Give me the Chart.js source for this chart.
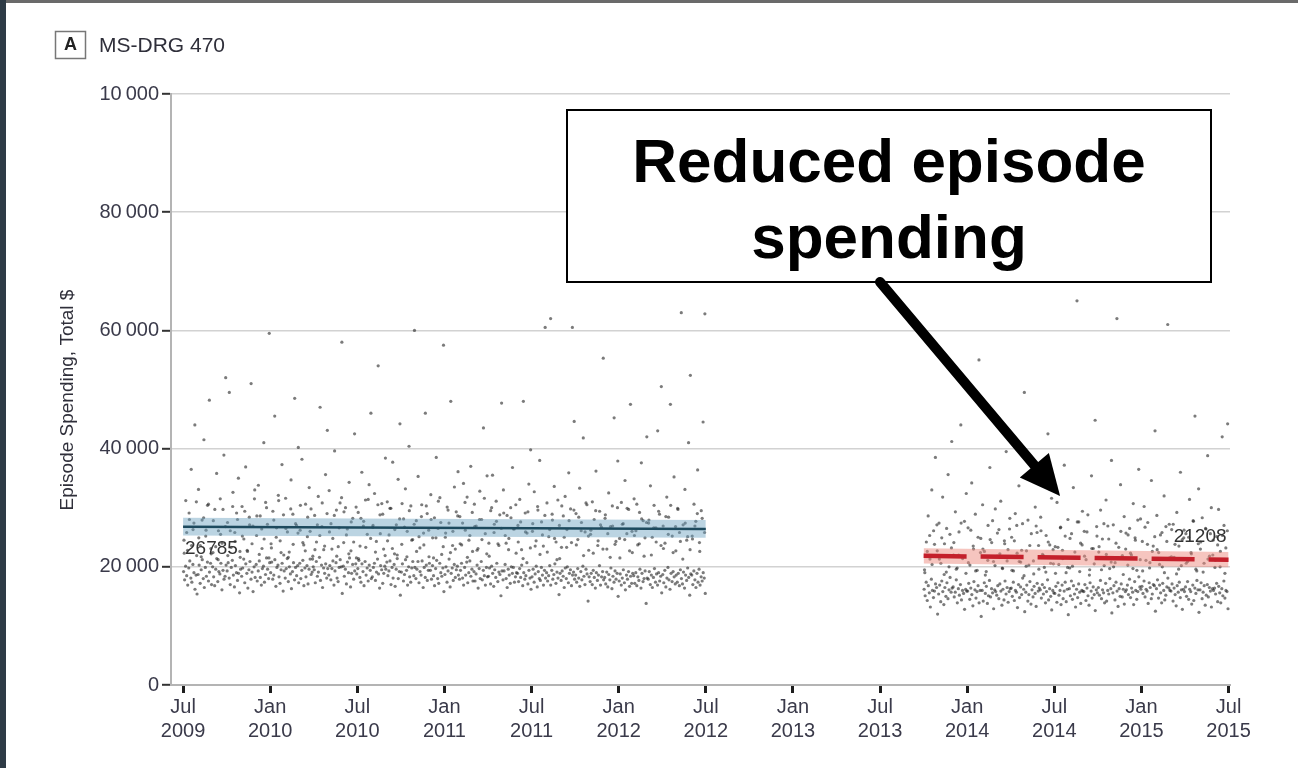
<!DOCTYPE html>
<html>
<head>
<meta charset="utf-8">
<script src="https://cdn.jsdelivr.net/npm/chart.js@4"></script>
<style>
  html, body { margin: 0; padding: 0; background: #fff; }
  #wrap { position: relative; width: 1298px; height: 768px; }
  canvas { display: block; }
</style>
</head>
<body>
<div id="wrap"><canvas id="c" width="1298" height="768"></canvas></div>
<script>
// Months are counted from July 2009 (0) to July 2015 (72).
const xTickMonths = [0, 6, 12, 18, 24, 30, 36, 42, 48, 54, 60, 66, 72];
const xTickLabels = [
  ['Jul', '2009'], ['Jan', '2010'], ['Jul', '2010'], ['Jan', '2011'], ['Jul', '2011'],
  ['Jan', '2012'], ['Jul', '2012'], ['Jan', '2013'], ['Jul', '2013'], ['Jan', '2014'],
  ['Jul', '2014'], ['Jan', '2015'], ['Jul', '2015']
];
const yTickValues = [0, 20000, 40000, 60000, 80000, 100000];
const yTickLabels = ['0', '20\u2009000', '40\u2009000', '60\u2009000', '80\u2009000', '10\u2009000'];

// Episode spending ($ thousands), one row per month, baseline period Jul 2009 - Jun 2012.
const preStartMonth = 0;
const preDense = [
  [19.2,17.8,20.1,18.5,16.9,19.8,21.0,18.1,17.4,20.4,19.0,16.2,18.6,15.4],
  [18.7,20.3,17.2,19.5,21.2,18.0,16.5,19.9,18.4,20.8,17.6,19.1,20.6,17.0],
  [20.0,18.3,16.8,19.6,21.4,17.5,19.2,18.8,20.6,16.1,19.4,17.9,18.4,20.3],
  [19.3,20.7,18.1,17.0,19.9,21.1,18.6,16.6,20.2,19.0,17.7,18.9,15.6,19.6],
  [18.4,19.8,21.3,17.3,20.5,18.9,16.4,19.5,20.9,17.9,19.1,15.8,20.0,18.2],
  [20.4,17.6,19.3,21.0,18.2,16.9,19.7,20.1,17.4,18.7,21.5,19.6,18.0,20.7],
  [19.0,20.8,17.9,18.6,21.2,16.7,19.9,20.3,18.3,17.2,19.5,20.6,15.9,19.3],
  [18.1,19.7,21.4,17.5,20.0,18.8,16.3,19.2,20.7,17.8,19.9,18.5,20.2,17.3],
  [20.6,18.0,19.4,21.1,16.8,19.8,18.3,20.2,17.1,19.6,21.3,18.7,19.1,20.0],
  [19.5,17.3,20.9,18.4,19.1,21.6,17.7,20.3,16.5,19.8,18.9,20.5,18.1,19.7],
  [18.6,20.2,17.8,19.7,21.0,16.9,19.3,20.7,18.1,17.5,19.9,21.2,20.0,15.5],
  [20.1,18.4,19.6,17.1,20.8,19.0,21.5,16.6,18.9,20.4,17.9,19.3,20.5,18.8],
  [19.7,21.1,18.2,17.4,20.5,19.2,16.8,20.9,18.6,19.8,17.6,20.3,19.4,18.0],
  [18.3,19.9,20.6,17.7,19.1,21.3,18.8,16.4,20.2,19.5,17.2,18.9,20.1,19.6],
  [20.8,18.5,19.3,21.0,17.0,19.9,18.1,20.4,16.7,19.6,21.4,18.0,19.2,15.2],
  [19.1,20.5,17.6,18.7,21.2,19.4,16.9,20.0,18.3,17.4,19.8,20.9,18.5,19.9],
  [18.0,19.6,20.9,17.3,19.2,18.6,21.0,16.5,19.9,18.2,20.3,17.7,19.4,20.6],
  [19.4,17.9,20.2,18.5,16.8,19.7,21.1,18.0,17.2,20.6,19.0,18.4,19.8,15.8],
  [18.7,20.0,17.4,19.3,21.3,16.6,18.9,19.8,17.7,20.4,18.2,19.5,20.1,18.6],
  [17.9,19.4,20.6,18.1,16.9,19.9,18.6,20.8,17.3,19.0,21.0,18.4,19.6,17.6],
  [19.2,17.6,18.8,20.3,16.4,19.7,18.0,20.9,17.8,19.4,18.5,16.9,19.9,18.3],
  [18.4,19.8,17.1,20.1,18.9,16.7,19.5,18.2,20.6,17.5,19.1,18.7,15.1,19.3],
  [17.8,19.3,20.4,18.0,16.5,19.6,18.6,17.2,20.0,18.9,19.9,17.4,18.3,19.0],
  [18.9,17.5,19.7,18.2,20.3,16.8,19.0,17.9,18.5,20.7,17.1,19.4,18.1,16.2],
  [18.3,19.6,17.4,18.8,20.1,16.6,19.2,18.0,17.7,19.9,18.6,16.9,19.4,18.1],
  [19.0,17.6,18.5,20.2,16.9,19.4,17.9,18.7,20.5,17.2,19.1,18.1,15.3,18.9],
  [17.7,19.3,18.4,16.5,19.8,18.0,20.0,17.3,18.9,19.5,16.8,18.6,19.1,17.9],
  [18.6,17.4,19.7,18.1,16.7,19.2,17.8,20.1,18.4,17.0,19.6,18.8,14.2,18.3],
  [17.5,18.9,17.0,19.4,18.2,16.4,19.0,17.7,18.6,20.2,16.9,18.3,19.2,17.8],
  [18.2,17.1,19.1,16.6,18.7,17.8,19.8,16.3,18.4,17.4,19.3,17.9,18.9,15.0],
  [17.6,18.8,16.9,18.1,19.5,17.3,16.1,18.6,17.9,19.2,16.7,18.4,17.2,18.9],
  [18.5,17.2,19.0,16.8,18.3,17.7,19.6,16.4,18.9,17.5,18.0,19.3,13.8,18.1],
  [17.9,19.2,17.0,18.6,16.5,18.2,19.7,17.4,18.8,16.9,19.0,17.6,18.4,15.6],
  [18.7,17.3,19.4,16.6,18.1,19.9,17.8,16.2,18.9,17.5,19.2,18.3,17.1,18.6],
  [17.4,18.9,16.8,19.5,18.0,17.1,19.1,16.4,18.6,17.7,19.8,18.2,15.2,18.8],
  [18.6,17.0,19.3,17.8,16.5,18.9,17.4,19.6,16.9,18.3,17.6,19.0,18.1,15.5]
];
const preMid = [
  [22.3,25.8,29.1,23.6,27.4,31.0],
  [24.9,21.7,28.3,26.2,30.6,23.1],
  [27.8,23.4,21.2,25.5,29.7,26.8],
  [21.9,26.1,30.2,24.3,28.0,22.6],
  [25.2,29.4,22.8,27.1,23.9,31.5],
  [28.6,22.1,26.4,24.7,30.0,21.5],
  [23.2,27.9,25.0,31.2,22.4,28.8],
  [26.5,21.6,29.8,23.8,27.3,25.7],
  [30.4,24.1,22.7,28.4,26.0,21.3],
  [22.9,27.1,25.3,30.8,23.5,29.0],
  [25.9,23.0,28.7,21.8,26.6,31.7],
  [29.3,25.4,22.2,27.6,24.2,30.1],
  [21.4,28.2,26.9,23.3,31.4,24.8],
  [27.0,22.5,30.5,25.6,28.9,21.9],
  [24.4,29.9,23.1,26.3,22.0,28.1],
  [30.7,26.7,21.7,29.5,24.5,27.2],
  [22.6,25.1,28.5,23.7,30.3,26.2],
  [28.0,21.5,24.9,31.1,27.5,23.4],
  [25.7,29.6,22.4,26.0,23.0,28.6],
  [23.9,27.4,30.9,21.6,25.3,29.2],
  [26.8,22.8,28.0,24.6,31.6,22.2],
  [21.8,30.0,25.8,27.7,23.6,26.5],
  [29.1,24.0,22.9,28.3,26.4,30.5],
  [24.2,27.6,21.4,25.9,29.3,23.2],
  [27.3,23.5,30.2,22.1,25.4,28.7],
  [22.5,26.3,28.9,24.8,21.2,27.0],
  [30.3,25.0,23.3,27.8,24.1,29.6],
  [23.7,28.4,26.1,21.9,30.8,25.2],
  [26.2,22.3,29.5,24.4,27.1,23.0],
  [28.8,25.6,21.6,26.9,23.8,30.0],
  [21.5,27.2,24.6,29.9,22.7,26.0],
  [25.3,30.6,23.9,28.1,21.8,27.5],
  [27.9,22.0,26.6,24.2,29.4,23.6],
  [23.1,28.5,25.5,30.4,22.4,26.8],
  [29.7,24.3,21.3,27.4,25.1,22.9],
  [24.7,26.9,29.0,22.6,28.2,25.8]
];
const preSpread = [
  [24.5,31.2,22.8,28.0,36.5,26.3,44.0,21.9],
  [33.1,23.6,27.9,41.5,25.2,30.4,48.2,22.2],
  [22.4,29.7,35.8,26.1,31.5,24.0,38.9,52.0],
  [27.5,49.5,23.3,32.6,25.8,29.1,35.0,21.6],
  [30.2,24.7,36.9,22.6,28.4,51.0,26.9,33.0],
  [25.3,33.8,28.6,23.1,41.0,30.9,27.2,59.5],
  [23.9,29.4,45.5,26.6,32.1,24.4,37.3,22.0],
  [31.6,25.9,22.5,34.7,28.9,48.5,27.0,40.2],
  [26.2,38.2,23.7,30.6,25.1,33.4,29.8,21.8],
  [28.7,24.2,31.9,47.0,26.8,22.9,35.6,43.1],
  [32.9,27.3,24.8,39.6,29.6,23.4,30.8,58.0],
  [24.1,30.0,26.4,34.3,22.7,28.2,42.5,21.5],
  [29.2,23.5,36.0,27.7,31.3,25.5,33.9,46.0],
  [26.7,32.4,24.3,54.0,28.8,30.7,23.0,38.4],
  [31.0,25.4,29.9,37.7,22.2,27.1,34.8,44.2],
  [23.8,28.1,33.2,26.0,40.4,30.3,24.6,60.0],
  [27.8,35.3,23.2,30.5,25.7,46.0,29.0,21.7],
  [32.2,24.9,28.3,38.5,26.5,31.7,22.1,57.5],
  [25.0,30.1,27.4,48.0,23.6,33.5,29.3,36.1],
  [28.5,23.7,34.1,26.2,31.8,24.5,37.0,22.6],
  [30.6,26.9,23.1,32.8,28.0,43.5,25.6,35.4],
  [24.0,29.5,35.5,27.2,31.1,23.9,28.8,47.7],
  [33.0,25.3,28.7,24.8,30.0,36.8,26.4,22.3],
  [27.0,31.4,22.9,48.0,29.1,25.7,34.0,39.8],
  [26.0,32.7,24.4,29.6,38.0,27.6,23.5,60.5],
  [30.8,25.1,62.0,27.9,33.6,24.2,31.3,21.4],
  [23.3,28.6,31.9,26.3,35.9,29.8,60.5,44.6],
  [29.0,24.6,33.3,27.5,41.8,25.9,30.5,22.8],
  [25.5,31.0,28.0,36.2,23.6,29.4,26.7,55.3],
  [28.2,23.0,32.5,26.8,30.3,45.2,24.3,37.9],
  [24.8,30.9,27.3,34.6,25.6,29.7,47.5,22.4],
  [31.5,26.1,23.7,29.2,37.6,27.8,24.9,42.0],
  [27.4,33.7,25.0,30.4,26.6,43.0,28.9,50.5],
  [26.9,24.0,31.8,28.4,47.5,25.2,35.2,22.7],
  [29.9,25.8,63.0,27.1,33.1,24.5,41.0,52.4],
  [25.2,30.6,27.7,36.4,24.1,29.5,44.5,62.8]
];

// Intervention period, Oct 2013 - Jun 2015.
const postStartMonth = 51;
const postDense = [
  [16.2,15.1,17.4,14.3,16.8,15.6,13.2,17.9,16.0,14.8,15.9,17.1,16.5,12.0],
  [15.4,16.9,14.1,17.6,15.8,13.6,16.5,15.0,17.3,14.6,16.1,18.2,15.7,16.4],
  [16.6,14.9,15.7,17.8,13.9,16.3,15.2,17.0,14.4,16.0,15.5,12.8,16.2,15.9],
  [15.9,17.2,14.5,16.4,15.3,13.4,17.5,16.1,14.7,15.8,16.8,13.9,16.0,11.6],
  [16.0,14.2,17.3,15.5,16.7,13.8,15.1,17.7,14.9,16.3,15.6,12.9,16.1,15.8],
  [15.2,16.8,14.6,17.1,15.9,13.5,16.2,14.4,17.6,15.4,16.5,14.0,15.8,16.3],
  [16.4,15.0,17.4,14.3,16.0,15.7,13.1,17.0,14.8,16.6,15.3,18.1,16.2,12.4],
  [15.7,16.9,14.2,15.3,17.5,13.7,16.1,14.9,16.7,15.5,13.3,17.2,15.9,16.4],
  [16.1,14.7,17.0,15.4,16.5,13.9,15.8,17.8,14.4,16.3,15.0,12.7,16.0,15.6],
  [15.5,16.7,14.0,17.3,15.2,16.0,13.6,16.9,14.6,15.9,17.4,14.1,16.2,11.9],
  [16.3,15.1,17.6,14.5,16.8,15.4,13.2,16.2,14.8,17.1,15.7,13.8,16.0,15.9],
  [15.8,17.0,14.3,16.4,15.1,13.5,17.3,15.9,14.7,16.6,15.3,12.6,16.1,15.6],
  [16.5,15.2,17.7,14.6,16.1,15.6,13.9,17.2,14.2,16.0,15.4,18.0,16.3,12.2],
  [15.6,16.8,14.4,17.4,15.9,13.3,16.3,15.0,17.1,14.9,16.2,13.7,15.8,16.1],
  [16.9,15.3,17.9,14.8,16.4,15.7,13.6,17.5,16.0,14.5,15.8,18.3,16.6,16.2],
  [16.7,15.5,17.6,14.9,16.2,15.9,13.8,17.3,16.5,14.6,15.4,17.0,16.8,12.5],
  [16.3,17.8,14.7,16.9,15.6,13.9,17.2,16.0,14.4,15.2,16.6,18.1,16.4,16.0],
  [15.9,17.1,14.2,16.4,15.3,13.4,16.8,15.7,17.4,14.8,16.1,12.8,16.2,15.8],
  [16.6,15.0,17.5,14.5,16.2,15.8,13.7,16.9,14.3,16.4,15.5,17.7,16.1,12.3],
  [16.1,17.3,14.6,15.7,16.8,13.5,15.2,17.0,14.9,16.5,15.9,13.2,16.3,16.0],
  [16.4,15.4,17.2,14.1,16.7,15.6,13.9,16.3,15.1,17.6,14.7,16.0,15.8,12.9]
];
const postMid = [
  [19.0,22.6,25.3,20.4,23.8,27.1],
  [21.3,24.9,18.7,26.5,20.0,23.2],
  [24.1,19.6,22.0,27.4,21.7,18.9],
  [20.7,26.2,23.5,19.3,25.0,22.4],
  [23.0,18.6,21.1,24.6,27.8,20.2],
  [25.7,22.2,19.8,23.9,21.0,26.4],
  [19.4,24.4,27.0,20.9,22.8,18.5],
  [22.7,20.3,25.6,18.8,26.9,23.6],
  [26.1,21.9,19.1,24.2,20.6,22.9],
  [18.9,23.3,26.6,21.4,25.2,19.9],
  [24.8,20.1,22.5,27.6,19.2,23.7],
  [21.8,25.9,18.6,23.1,20.5,26.8],
  [23.4,19.5,27.3,22.1,24.7,20.8],
  [20.0,24.0,21.5,26.0,18.7,23.0],
  [25.4,22.3,19.7,24.5,27.9,21.2],
  [19.3,26.7,23.8,20.7,22.6,25.1],
  [22.9,20.4,25.8,19.0,24.3,27.2],
  [26.3,21.6,18.8,23.5,20.2,24.9],
  [20.6,25.0,22.4,27.7,19.6,23.9],
  [24.2,19.1,26.5,21.3,25.6,22.0],
  [21.1,23.7,20.0,25.3,18.9,26.1]
];
const postSpread = [
  [19.5,24.2,28.6,21.3,33.0,26.1,38.5,22.7],
  [27.4,20.6,31.8,23.9,19.1,35.6,25.5,41.2],
  [22.0,29.3,19.8,25.9,44.0,21.4,27.7,32.4],
  [26.6,20.3,34.2,23.0,28.9,19.4,55.0,24.8],
  [30.5,22.6,19.2,27.0,36.8,24.1,20.9,29.8],
  [21.8,26.3,31.1,19.7,24.4,39.5,22.9,28.2],
  [25.0,19.3,29.0,22.3,33.7,20.8,27.3,49.5],
  [20.1,27.9,23.6,35.0,21.0,30.1,25.8,19.6],
  [28.4,22.1,19.9,25.3,42.5,23.7,31.6,20.5],
  [23.4,30.9,20.4,26.7,22.8,37.2,19.0,28.0],
  [19.8,25.6,33.4,21.6,65.0,27.6,24.0,29.4],
  [26.0,21.2,28.8,19.5,35.4,23.1,44.8,25.2],
  [22.5,29.6,24.7,20.2,31.3,26.9,19.7,38.0],
  [27.1,20.7,62.0,23.3,33.9,21.9,28.5,25.7],
  [20.3,26.5,22.0,30.7,24.9,19.4,36.5,28.1],
  [24.3,30.2,21.1,27.5,19.8,34.6,23.5,43.0],
  [28.7,22.4,25.4,20.0,32.0,26.8,61.0,21.5],
  [21.7,27.2,23.8,29.2,19.6,36.0,24.6,26.2],
  [25.6,20.9,31.4,22.2,27.8,45.5,19.3,33.2],
  [23.0,28.3,20.6,26.4,38.8,21.8,30.0,24.5],
  [19.9,25.1,29.7,22.6,42.0,27.0,23.2,44.2]
];

// Fitted trend and 95% CI ($) at the start and end of each period.
const preTrendMonths = [0, 36];
const preTrend = [26785, 26400];
const preLower = [25285, 24900];
const preUpper = [28285, 27900];
const postTrendMonths = [51, 72];
const postTrend = [21850, 21208];
const postLower = [20550, 19908];
const postUpper = [23150, 22508];

function toPoints(rows, startMonth) {
  const pts = [];
  rows.forEach((vals, r) => {
    vals.forEach((v, i) => {
      pts.push({ x: startMonth + r + (i + 0.5) / vals.length, y: v * 1000 });
    });
  });
  return pts;
}
function pairs(xs, ys) { return xs.map((x, i) => ({ x: x, y: ys[i] })); }

const dotColor = 'rgba(35,35,35,0.6)';
const dotRadius = 1.6;
const tickFont = { family: '"Liberation Sans", sans-serif', size: 20 };

function dots(rows, start) {
  return { data: toPoints(rows, start), backgroundColor: dotColor, borderWidth: 0, pointRadius: dotRadius, order: 5 };
}

const decorPlugin = {
  id: 'decor',
  afterDraw(chart) {
    const ctx = chart.ctx;
    const xs = chart.scales.x, ys = chart.scales.y;
    ctx.save();
    // page frame
    ctx.fillStyle = '#2e3b46';
    ctx.fillRect(0, 0, 6, 768);
    ctx.fillStyle = '#6a6a6a';
    ctx.fillRect(6, 0, 1292, 3);

    // panel label
    ctx.strokeStyle = '#777';
    ctx.lineWidth = 1.5;
    ctx.strokeRect(55.5, 31.5, 30, 27);
    ctx.fillStyle = '#222';
    ctx.font = 'bold 18px "Liberation Sans", sans-serif';
    ctx.textAlign = 'center';
    ctx.textBaseline = 'middle';
    ctx.fillText('A', 70.5, 45.5);
    ctx.fillStyle = '#2f2f3a';
    ctx.font = '21px "Liberation Sans", sans-serif';
    ctx.textAlign = 'left';
    ctx.fillText('MS-DRG 470', 99, 46);

    // y axis title
    ctx.save();
    ctx.translate(68, 400);
    ctx.rotate(-Math.PI / 2);
    ctx.fillStyle = '#2f2f3a';
    ctx.font = '19px "Liberation Sans", sans-serif';
    ctx.textAlign = 'center';
    ctx.fillText('Episode Spending, Total $', 0, 0);
    ctx.restore();

    // value labels at the trend ends
    ctx.fillStyle = '#333';
    ctx.font = '19px "Liberation Sans", sans-serif';
    ctx.textBaseline = 'middle';
    ctx.textAlign = 'left';
    ctx.fillText(String(preTrend[0]), xs.getPixelForValue(preTrendMonths[0]) + 2, ys.getPixelForValue(preTrend[0]) + 22);
    ctx.textAlign = 'right';
    ctx.fillText(String(postTrend[1]), xs.getPixelForValue(postTrendMonths[1]) - 2, ys.getPixelForValue(postTrend[1]) - 23);

    // callout box
    const bx = 567, by = 110, bw = 644, bh = 172;
    ctx.fillStyle = '#fff';
    ctx.fillRect(bx, by, bw, bh);
    ctx.strokeStyle = '#000';
    ctx.lineWidth = 2;
    ctx.strokeRect(bx, by, bw, bh);
    ctx.fillStyle = '#000';
    ctx.font = 'bold 62px "Liberation Sans", Arial, sans-serif';
    ctx.textAlign = 'center';
    ctx.textBaseline = 'alphabetic';
    ctx.fillText('Reduced episode', bx + bw / 2, by + 72);
    ctx.fillText('spending', bx + bw / 2, by + 148);

    // arrow into the post-period cloud
    const sx = 880, sy = by + bh;
    const tx = xs.getPixelForValue(60.4), ty = ys.getPixelForValue(32000);
    const ang = Math.atan2(ty - sy, tx - sx);
    const headLen = 40, headHalf = 19;
    const bxp = tx - headLen * Math.cos(ang), byp = ty - headLen * Math.sin(ang);
    ctx.strokeStyle = '#000';
    ctx.lineWidth = 10;
    ctx.lineCap = 'round';
    ctx.beginPath();
    ctx.moveTo(sx, sy);
    ctx.lineTo(bxp, byp);
    ctx.stroke();
    ctx.beginPath();
    ctx.moveTo(tx, ty);
    ctx.lineTo(bxp + headHalf * Math.sin(ang), byp - headHalf * Math.cos(ang));
    ctx.lineTo(bxp - headHalf * Math.sin(ang), byp + headHalf * Math.cos(ang));
    ctx.closePath();
    ctx.fill();
    ctx.restore();
  }
};

new Chart(document.getElementById('c'), {
  type: 'scatter',
  data: {
    datasets: [
      dots(preDense, preStartMonth),
      dots(preMid, preStartMonth),
      dots(preSpread, preStartMonth),
      dots(postDense, postStartMonth),
      dots(postMid, postStartMonth),
      dots(postSpread, postStartMonth),
      { type: 'line', data: pairs(preTrendMonths, preUpper), borderWidth: 0, pointRadius: 0, fill: false, order: 3 },
      { type: 'line', data: pairs(preTrendMonths, preLower), borderWidth: 0, pointRadius: 0, fill: '-1', backgroundColor: 'rgba(105,160,190,0.45)', order: 3 },
      { type: 'line', data: pairs(preTrendMonths, preTrend), borderColor: '#1d4a5e', borderWidth: 2.5, pointRadius: 0, fill: false, order: 1 },
      { type: 'line', data: pairs(postTrendMonths, postUpper), borderWidth: 0, pointRadius: 0, fill: false, order: 3 },
      { type: 'line', data: pairs(postTrendMonths, postLower), borderWidth: 0, pointRadius: 0, fill: '-1', backgroundColor: 'rgba(238,140,128,0.5)', order: 3 },
      { type: 'line', data: pairs(postTrendMonths, postTrend), borderColor: '#c4202b', borderWidth: 4.5, borderDash: [43, 14], pointRadius: 0, fill: false, order: 1 }
    ]
  },
  options: {
    responsive: false,
    animation: false,
    events: [],
    layout: { padding: { left: 0, top: 94, right: 68, bottom: 0 } },
    plugins: { legend: { display: false }, tooltip: { enabled: false } },
    scales: {
      x: {
        type: 'linear',
        min: -0.83,
        max: 72.1,
        afterBuildTicks(scale) { scale.ticks = xTickMonths.map(v => ({ value: v })); },
        afterFit(scale) { scale.height = 83; },
        border: { color: '#b4b4b4', width: 2 },
        grid: { drawOnChartArea: false, drawTicks: true, tickLength: 8, tickWidth: 3, tickColor: '#1e1e1e' },
        ticks: {
          autoSkip: false,
          maxRotation: 0,
          padding: 2,
          color: '#3a3a4a',
          font: tickFont,
          callback(value) {
            const i = xTickMonths.indexOf(value);
            return i >= 0 ? xTickLabels[i] : '';
          }
        }
      },
      y: {
        min: 0,
        max: 100000,
        afterBuildTicks(scale) { scale.ticks = yTickValues.map(v => ({ value: v })); },
        afterFit(scale) { scale.width = 171; },
        border: { color: '#b4b4b4', width: 2 },
        grid: { color: '#d2d2d2', lineWidth: 1.6, tickLength: 9, tickWidth: 2, tickColor: '#333' },
        ticks: {
          padding: 3,
          color: '#3a3a4a',
          font: tickFont,
          callback(value) {
            const i = yTickValues.indexOf(value);
            return i >= 0 ? yTickLabels[i] : '';
          }
        }
      }
    }
  },
  plugins: [decorPlugin]
});
</script>
</body>
</html>
